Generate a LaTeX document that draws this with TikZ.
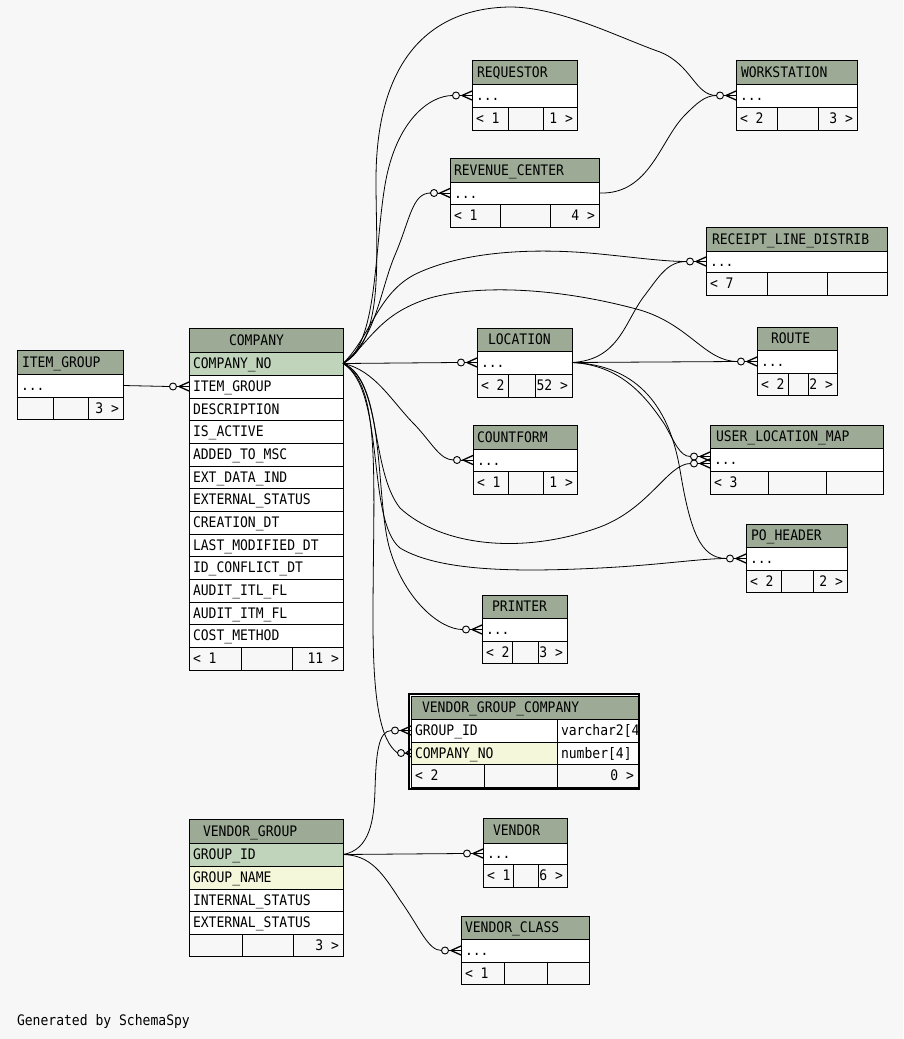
\documentclass[tikz,border=0pt]{standalone}
\usepackage{fontspec}
\newfontfamily\ssfont[FakeStretch=0.9]{DejaVu Sans Mono}
\definecolor{bg}{HTML}{F7F7F7}
\definecolor{hdr}{HTML}{9DAB96}
\definecolor{pk}{HTML}{BFD4BB}
\definecolor{idx}{HTML}{F4F7DA}
\tikzset{
  txt/.style={font=\ssfont\fontsize{14.5}{16}\selectfont, inner sep=0pt, outer sep=0pt, text height=10.6pt, text depth=0pt},
  cell/.style={draw=black, line width=1pt, inner sep=0pt, outer sep=0pt, anchor=north west, rectangle},
  link/.style={draw=black, line width=0.8pt},
  crowfoot/.pic={
    \draw[line width=0.9pt] (-12.5,0) -- (0,0);
    \draw[line width=1.3pt] (0,-4.5) -- (-10,0) -- (0,4.5);
    \draw[line width=0.9pt, fill=bg] (-16,0) circle (3.5pt);
  },
  crowfootshort/.pic={
    \draw[line width=0.9pt] (-6.5,0) -- (0,0);
    \draw[line width=1.3pt] (0,-4) -- (-5,0) -- (0,4);
    \draw[line width=0.9pt, fill=bg] (-10,0) circle (3.5pt);
  }
}
\newcommand\mkcell[6]{\node[cell, fill=#6, minimum width={#4-#2}, minimum height={#5-#3}] (#1) at (#2,#3) {};}
\newcommand\hdrow[7]{\mkcell{#1}{#2}{#3}{#4}{#5}{hdr}\node[txt,anchor=west] (#1-t) at (#6,{(#3+#5)/2}) {#7};}
\newcommand\trow[7]{\mkcell{#1}{#2}{#3}{#4}{#5}{#6}\node[txt,anchor=west] (#1-t) at ({#2+4},{(#3+#5)/2}) {#7};}
\newcommand\foot[9]{\mkcell{#1-f1}{#2}{#6}{#3}{#7}{bg}\mkcell{#1-f2}{#3}{#6}{#4}{#7}{bg}\mkcell{#1-f3}{#4}{#6}{#5}{#7}{bg}%
  \node[txt,anchor=west] (#1-fl) at ({#2+4},{(#6+#7)/2}) {#8};\node[txt,anchor=east] (#1-fr) at ({#5-4},{(#6+#7)/2}) {#9};}
\begin{document}
\begin{tikzpicture}[x=1pt,y=-1pt]
\fill[bg] (0,0) rectangle (903,1039);
\useasboundingbox (0,0) rectangle (903,1039);

% ITEM_GROUP
\hdrow{ig-h}{17}{350}{123}{374}{22}{ITEM\_GROUP}
\trow{ig-r}{17}{374}{123}{397}{white}{...}
\foot{ig}{17}{53}{88}{123}{397}{419}{}{3 >}

% COMPANY
\hdrow{co-h}{189}{328}{343}{352}{229}{COMPANY}
\trow{co-pk}{189}{352}{343}{375}{pk}{COMPANY\_NO}
\trow{co-r2}{189}{375}{343}{398}{white}{ITEM\_GROUP}
\trow{co-r3}{189}{398}{343}{420}{white}{DESCRIPTION}
\trow{co-r4}{189}{420}{343}{443}{white}{IS\_ACTIVE}
\trow{co-r5}{189}{443}{343}{466}{white}{ADDED\_TO\_MSC}
\trow{co-r6}{189}{466}{343}{488}{white}{EXT\_DATA\_IND}
\trow{co-r7}{189}{488}{343}{511}{white}{EXTERNAL\_STATUS}
\trow{co-r8}{189}{511}{343}{534}{white}{CREATION\_DT}
\trow{co-r9}{189}{534}{343}{556}{white}{LAST\_MODIFIED\_DT}
\trow{co-r10}{189}{556}{343}{579}{white}{ID\_CONFLICT\_DT}
\trow{co-r11}{189}{579}{343}{602}{white}{AUDIT\_ITL\_FL}
\trow{co-r12}{189}{602}{343}{624}{white}{AUDIT\_ITM\_FL}
\trow{co-r13}{189}{624}{343}{647}{white}{COST\_METHOD}
\foot{co}{189}{241}{292}{343}{647}{670}{< 1}{11 >}

% VENDOR_GROUP
\hdrow{vg-h}{189}{819}{343}{843}{203}{VENDOR\_GROUP}
\trow{vg-pk}{189}{843}{343}{866}{pk}{GROUP\_ID}
\trow{vg-r2}{189}{866}{343}{889}{idx}{GROUP\_NAME}
\trow{vg-r3}{189}{889}{343}{911}{white}{INTERNAL\_STATUS}
\trow{vg-r4}{189}{911}{343}{934}{white}{EXTERNAL\_STATUS}
\foot{vg}{189}{242}{293}{343}{934}{956}{}{3 >}

% VENDOR_GROUP_COMPANY
\node[cell, fill=white, line width=2pt, minimum width=230, minimum height=95] (vgc) at (409,693.5) {};
\hdrow{vgc-h}{411}{696}{638}{719}{422}{VENDOR\_GROUP\_COMPANY}
\trow{vgc-r1}{411}{719}{557}{742}{white}{GROUP\_ID}
\trow{vgc-t1}{557}{719}{638}{742}{white}{varchar2[4}
\trow{vgc-r2}{411}{742}{557}{764}{idx}{COMPANY\_NO}
\trow{vgc-t2}{557}{742}{638}{764}{white}{number[4]}
\foot{vgc}{411}{484}{557}{638}{764}{787}{< 2}{0 >}

% VENDOR
\hdrow{ve-h}{483}{818}{567}{843}{493}{VENDOR}
\trow{ve-r}{483}{843}{567}{864}{white}{...}
\foot{ve}{483}{513}{538}{567}{864}{887}{< 1}{6 >}

% VENDOR_CLASS
\hdrow{vc-h}{461}{916}{589}{939}{465}{VENDOR\_CLASS}
\trow{vc-r}{461}{939}{589}{962}{white}{...}
\foot{vc}{461}{504}{547}{589}{962}{984}{< 1}{}

% REQUESTOR
\hdrow{rq-h}{472}{60}{577}{84}{477}{REQUESTOR}
\trow{rq-r}{472}{84}{577}{107}{white}{...}
\foot{rq}{472}{508}{543}{577}{107}{130}{< 1}{1 >}

% WORKSTATION
\hdrow{ws-h}{736}{60}{857}{84}{741}{WORKSTATION}
\trow{ws-r}{736}{84}{857}{107}{white}{...}
\foot{ws}{736}{777}{818}{857}{107}{130}{< 2}{3 >}

% REVENUE_CENTER
\hdrow{rc-h}{450}{158}{599}{182}{454}{REVENUE\_CENTER}
\trow{rc-r}{450}{182}{599}{204}{white}{...}
\foot{rc}{450}{500}{550}{599}{204}{227}{< 1}{4 >}

% RECEIPT_LINE_DISTRIB
\hdrow{rl-h}{706}{227}{887}{251}{712}{RECEIPT\_LINE\_DISTRIB}
\trow{rl-r}{706}{251}{887}{272}{white}{...}
\foot{rl}{706}{767}{827}{887}{272}{295}{< 7}{}

% ROUTE
\hdrow{ro-h}{757}{327}{837}{350}{771}{ROUTE}
\trow{ro-r}{757}{350}{837}{373}{white}{...}
\foot{ro}{757}{788}{808}{837}{373}{395}{< 2}{2 >}

% LOCATION
\hdrow{lo-h}{477}{328}{572}{351}{488}{LOCATION}
\trow{lo-r}{477}{351}{572}{374}{white}{...}
\foot{lo}{477}{508}{535}{572}{374}{397}{< 2}{52 >}

% COUNTFORM
\hdrow{cnt-h}{473}{425}{577}{449}{477}{COUNTFORM}
\trow{cnt-r}{473}{449}{577}{471}{white}{...}
\foot{cnt}{473}{508}{543}{577}{471}{494}{< 1}{1 >}

% USER_LOCATION_MAP
\hdrow{ul-h}{710}{425}{883}{448}{716}{USER\_LOCATION\_MAP}
\trow{ul-r}{710}{448}{883}{471}{white}{...}
\foot{ul}{710}{768}{826}{883}{471}{494}{< 3}{}

% PO_HEADER
\hdrow{po-h}{746}{524}{847}{547}{751}{PO\_HEADER}
\trow{po-r}{746}{547}{847}{570}{white}{...}
\foot{po}{746}{781}{813}{847}{570}{592}{< 2}{2 >}

% PRINTER
\hdrow{pr-h}{482}{595}{567}{618}{492}{PRINTER}
\trow{pr-r}{482}{618}{567}{641}{white}{...}
\foot{pr}{482}{512}{538}{567}{641}{663}{< 2}{3 >}

% footer text
\node[txt, anchor=west] (gen) at (17,1020) {Generated by SchemaSpy};

% ---- connectors ----
\draw[link] (co-pk.east) .. controls (378,345) and (374,250) .. (385,185) .. controls (396,120) and (430,95.5) .. ([xshift=-19.5pt]rq-r.west);
\draw[link] (co-pk.east) .. controls (376,340) and (380,290) .. (395,255) .. controls (410,220) and (412,193) .. ([xshift=-19.5pt]rc-r.west);
\draw[link] (co-pk.east) .. controls (385,340) and (376,260) .. (376,180) .. controls (376,60) and (430,8) .. (510,7) .. controls (560,7) and (620,38) .. (660,52) .. controls (692,65) and (695,95.5) .. ([xshift=-19.5pt]ws-r.west);
\draw[link] (co-pk.east) .. controls (372,335) and (378,290) .. (420,272) .. controls (470,250) and (540,248) .. (600,254) .. controls (640,258) and (665,261.5) .. ([xshift=-19.5pt]rl-r.west);
\draw[link] (co-pk.east) .. controls (370,343) and (378,314) .. (430,298) .. controls (480,284) and (560,288) .. (640,310) .. controls (690,325) and (705,361.5) .. ([xshift=-19.5pt]ro-r.west);
\draw[link] (co-pk.east) -- ([xshift=-19.5pt]lo-r.west);
\draw[link] (co-pk.east) .. controls (375,370) and (392,402) .. (415,425) .. controls (432,443) and (440,460) .. ([xshift=-19.5pt]cnt-r.west);
\draw[link] (co-pk.east) .. controls (382,380) and (370,470) .. (400,508) .. controls (440,545) and (520,556) .. (600,527) .. controls (650,508) and (668,463.5) .. ([xshift=-19.5pt,yshift=-4pt]ul-r.west);
\draw[link] (co-pk.east) .. controls (386,390) and (366,520) .. (400,548) .. controls (440,572) and (520,572) .. (600,568) .. controls (660,565) and (700,558.5) .. ([xshift=-19.5pt]po-r.west);
\draw[link] (co-pk.east) .. controls (386,380) and (375,500) .. (390,550) .. controls (405,600) and (440,629.5) .. ([xshift=-19.5pt]pr-r.west);
\draw[link] (co-pk.east) .. controls (382,385) and (373,480) .. (373,620) .. controls (373,700) and (380,740) .. ([xshift=-13.5pt]vgc-r2.west);
\draw[link] (lo-r.east) .. controls (620,360) and (625,320) .. (645,295) .. controls (660,275) and (668,261.5) .. ([xshift=-19.5pt]rl-r.west);
\draw[link] (lo-r.east) -- ([xshift=-19.5pt]ro-r.west);
\draw[link] (lo-r.east) .. controls (620,365) and (645,395) .. (665,425) .. controls (675,443) and (680,456.5) .. ([xshift=-19.5pt,yshift=3pt]ul-r.west);
\draw[link] (lo-r.east) .. controls (640,365) and (670,410) .. (680,470) .. controls (690,530) and (700,558.5) .. ([xshift=-19.5pt]po-r.west);
\draw[link] (rc-r.east) .. controls (650,195) and (660,140) .. (685,115) .. controls (697,103) and (705,95.5) .. ([xshift=-19.5pt]ws-r.west);
\draw[link] (ig-r.east) -- ([xshift=-19.5pt]co-r2.west);
\draw[link] (vg-pk.east) -- ([xshift=-19.5pt]ve-r.west);
\draw[link] (vg-pk.east) .. controls (370,855) and (382,872) .. (400,900) .. controls (420,928) and (428,950.5) .. ([xshift=-19.5pt]vc-r.west);
\draw[link] (vg-pk.east) .. controls (370,850) and (374,820) .. (375,790) .. controls (376,755) and (378,730.5) .. ([xshift=-19.5pt]vgc-r1.west);

% ---- crow's feet ----
\pic at (rq-r.west) {crowfoot};
\pic at (rc-r.west) {crowfoot};
\pic at (ws-r.west) {crowfoot};
\pic at (rl-r.west) {crowfoot};
\pic at (ro-r.west) {crowfoot};
\pic at (lo-r.west) {crowfoot};
\pic at (cnt-r.west) {crowfoot};
\pic at ([yshift=-4pt]ul-r.west) {crowfoot};
\pic at ([yshift=3pt]ul-r.west) {crowfoot};
\pic at (po-r.west) {crowfoot};
\pic at (pr-r.west) {crowfoot};
\pic at (vgc-r2.west) {crowfootshort};
\pic at (vgc-r1.west) {crowfoot};
\pic at (co-r2.west) {crowfoot};
\pic at (ve-r.west) {crowfoot};
\pic at (vc-r.west) {crowfoot};
\end{tikzpicture}
\end{document}
